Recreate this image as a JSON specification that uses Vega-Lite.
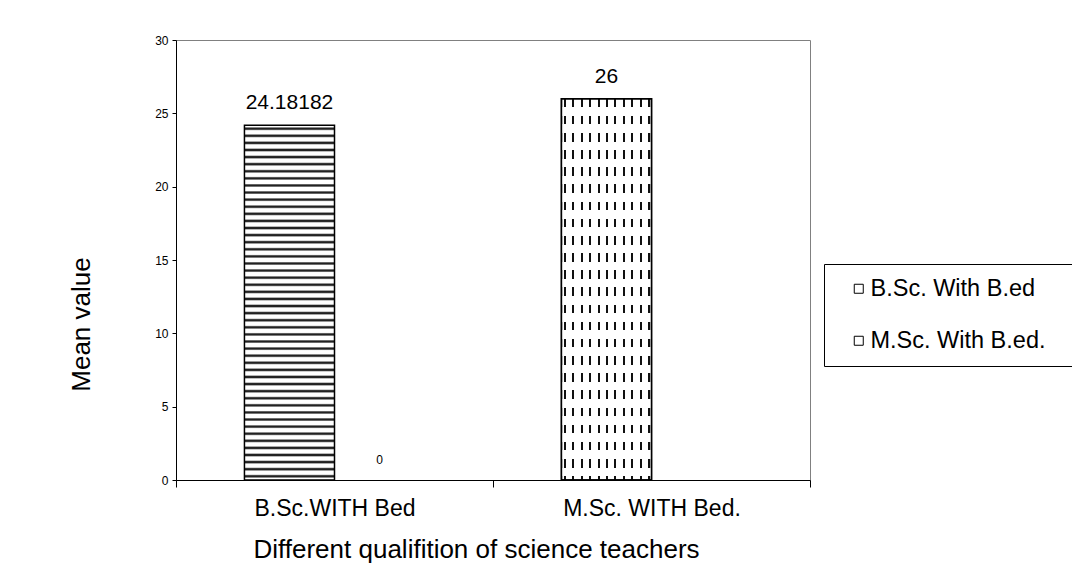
{
  "$schema": "https://vega.github.io/schema/vega-lite/v6.json",
  "width": 634,
  "height": 440,
  "autosize": {"type": "none"},
  "padding": {"left": 176, "top": 40, "right": 262, "bottom": 83},
  "background": "white",
  "config": {
    "font": "Liberation Sans",
    "view": {"stroke": "#808080", "strokeWidth": 1},
    "axis": {"grid": false, "domainColor": "#000", "tickColor": "#000", "labelColor": "#000", "titleColor": "#000", "titleFontWeight": "normal", "domainWidth": 1, "tickWidth": 1}
  },
  "data": {
    "values": [
      {"qualification": "B.Sc.WITH Bed", "series": "B.Sc. With B.ed", "slot": "1", "value": 24.18182},
      {"qualification": "B.Sc.WITH Bed", "series": "M.Sc. With B.ed.", "slot": "2", "value": 0},
      {"qualification": "M.Sc. WITH Bed.", "series": "M.Sc. With B.ed.", "slot": "1", "value": 26}
    ]
  },
  "encoding": {
    "x": {
      "field": "qualification", "type": "nominal",
      "sort": ["B.Sc.WITH Bed", "M.Sc. WITH Bed."],
      "scale": {"paddingInner": 0, "paddingOuter": 0},
      "axis": {
        "title": "Different qualifition of science teachers",
        "labelAngle": 0, "labelFontSize": 23, "labelPadding": 10, "tickSize": 7, "tickBand": "extent",
        "titleFontSize": 26, "titleX": 300, "titleY": 77, "titleAlign": "center", "titleBaseline": "alphabetic"
      }
    },
    "xOffset": {
      "field": "slot", "type": "nominal", "sort": ["1", "2"],
      "scale": {"paddingInner": 0, "paddingOuter": 0.76}
    },
    "y": {
      "field": "value", "type": "quantitative",
      "scale": {"domain": [0, 30], "nice": false},
      "axis": {
        "title": "Mean value", "values": [0, 5, 10, 15, 20, 25, 30],
        "labelFontSize": 12, "tickSize": 4, "labelPadding": 4,
        "titleFontSize": 26, "titleX": -87, "titleY": 284, "titleAngle": -90, "titleAlign": "center", "titleBaseline": "alphabetic"
      }
    }
  },
  "layer": [
    {
      "transform": [{"filter": "datum.series === 'B.Sc. With B.ed'"}],
      "mark": {
        "type": "bar", "stroke": "#000", "strokeWidth": 1.5,
        "fill": {
          "gradient": "linear", "x1": 0, "y1": 0, "x2": 0, "y2": 1,
          "stops": [
            {"offset": 0, "color": "#fff"},
            {"offset": 0.004, "color": "#fff"}, {"offset": 0.008, "color": "#222"}, {"offset": 0.011, "color": "#222"}, {"offset": 0.015, "color": "#fff"},
            {"offset": 0.024, "color": "#fff"}, {"offset": 0.028, "color": "#222"}, {"offset": 0.031, "color": "#222"}, {"offset": 0.035, "color": "#fff"},
            {"offset": 0.044, "color": "#fff"}, {"offset": 0.048, "color": "#222"}, {"offset": 0.051, "color": "#222"}, {"offset": 0.055, "color": "#fff"},
            {"offset": 0.064, "color": "#fff"}, {"offset": 0.068, "color": "#222"}, {"offset": 0.071, "color": "#222"}, {"offset": 0.075, "color": "#fff"},
            {"offset": 0.084, "color": "#fff"}, {"offset": 0.088, "color": "#222"}, {"offset": 0.091, "color": "#222"}, {"offset": 0.095, "color": "#fff"},
            {"offset": 0.104, "color": "#fff"}, {"offset": 0.108, "color": "#222"}, {"offset": 0.111, "color": "#222"}, {"offset": 0.115, "color": "#fff"},
            {"offset": 0.124, "color": "#fff"}, {"offset": 0.128, "color": "#222"}, {"offset": 0.131, "color": "#222"}, {"offset": 0.135, "color": "#fff"},
            {"offset": 0.144, "color": "#fff"}, {"offset": 0.148, "color": "#222"}, {"offset": 0.151, "color": "#222"}, {"offset": 0.155, "color": "#fff"},
            {"offset": 0.164, "color": "#fff"}, {"offset": 0.168, "color": "#222"}, {"offset": 0.171, "color": "#222"}, {"offset": 0.175, "color": "#fff"},
            {"offset": 0.184, "color": "#fff"}, {"offset": 0.188, "color": "#222"}, {"offset": 0.191, "color": "#222"}, {"offset": 0.195, "color": "#fff"},
            {"offset": 0.204, "color": "#fff"}, {"offset": 0.208, "color": "#222"}, {"offset": 0.211, "color": "#222"}, {"offset": 0.215, "color": "#fff"},
            {"offset": 0.224, "color": "#fff"}, {"offset": 0.228, "color": "#222"}, {"offset": 0.231, "color": "#222"}, {"offset": 0.235, "color": "#fff"},
            {"offset": 0.244, "color": "#fff"}, {"offset": 0.248, "color": "#222"}, {"offset": 0.251, "color": "#222"}, {"offset": 0.255, "color": "#fff"},
            {"offset": 0.264, "color": "#fff"}, {"offset": 0.268, "color": "#222"}, {"offset": 0.271, "color": "#222"}, {"offset": 0.275, "color": "#fff"},
            {"offset": 0.284, "color": "#fff"}, {"offset": 0.288, "color": "#222"}, {"offset": 0.291, "color": "#222"}, {"offset": 0.295, "color": "#fff"},
            {"offset": 0.304, "color": "#fff"}, {"offset": 0.308, "color": "#222"}, {"offset": 0.311, "color": "#222"}, {"offset": 0.315, "color": "#fff"},
            {"offset": 0.324, "color": "#fff"}, {"offset": 0.328, "color": "#222"}, {"offset": 0.331, "color": "#222"}, {"offset": 0.335, "color": "#fff"},
            {"offset": 0.344, "color": "#fff"}, {"offset": 0.348, "color": "#222"}, {"offset": 0.351, "color": "#222"}, {"offset": 0.355, "color": "#fff"},
            {"offset": 0.364, "color": "#fff"}, {"offset": 0.368, "color": "#222"}, {"offset": 0.371, "color": "#222"}, {"offset": 0.375, "color": "#fff"},
            {"offset": 0.384, "color": "#fff"}, {"offset": 0.388, "color": "#222"}, {"offset": 0.391, "color": "#222"}, {"offset": 0.395, "color": "#fff"},
            {"offset": 0.404, "color": "#fff"}, {"offset": 0.408, "color": "#222"}, {"offset": 0.411, "color": "#222"}, {"offset": 0.415, "color": "#fff"},
            {"offset": 0.424, "color": "#fff"}, {"offset": 0.428, "color": "#222"}, {"offset": 0.431, "color": "#222"}, {"offset": 0.435, "color": "#fff"},
            {"offset": 0.444, "color": "#fff"}, {"offset": 0.448, "color": "#222"}, {"offset": 0.451, "color": "#222"}, {"offset": 0.455, "color": "#fff"},
            {"offset": 0.464, "color": "#fff"}, {"offset": 0.468, "color": "#222"}, {"offset": 0.471, "color": "#222"}, {"offset": 0.475, "color": "#fff"},
            {"offset": 0.484, "color": "#fff"}, {"offset": 0.488, "color": "#222"}, {"offset": 0.491, "color": "#222"}, {"offset": 0.495, "color": "#fff"},
            {"offset": 0.504, "color": "#fff"}, {"offset": 0.508, "color": "#222"}, {"offset": 0.511, "color": "#222"}, {"offset": 0.515, "color": "#fff"},
            {"offset": 0.524, "color": "#fff"}, {"offset": 0.528, "color": "#222"}, {"offset": 0.531, "color": "#222"}, {"offset": 0.535, "color": "#fff"},
            {"offset": 0.544, "color": "#fff"}, {"offset": 0.548, "color": "#222"}, {"offset": 0.551, "color": "#222"}, {"offset": 0.555, "color": "#fff"},
            {"offset": 0.564, "color": "#fff"}, {"offset": 0.568, "color": "#222"}, {"offset": 0.571, "color": "#222"}, {"offset": 0.575, "color": "#fff"},
            {"offset": 0.584, "color": "#fff"}, {"offset": 0.588, "color": "#222"}, {"offset": 0.591, "color": "#222"}, {"offset": 0.595, "color": "#fff"},
            {"offset": 0.604, "color": "#fff"}, {"offset": 0.608, "color": "#222"}, {"offset": 0.611, "color": "#222"}, {"offset": 0.615, "color": "#fff"},
            {"offset": 0.624, "color": "#fff"}, {"offset": 0.628, "color": "#222"}, {"offset": 0.631, "color": "#222"}, {"offset": 0.635, "color": "#fff"},
            {"offset": 0.644, "color": "#fff"}, {"offset": 0.648, "color": "#222"}, {"offset": 0.651, "color": "#222"}, {"offset": 0.655, "color": "#fff"},
            {"offset": 0.664, "color": "#fff"}, {"offset": 0.668, "color": "#222"}, {"offset": 0.671, "color": "#222"}, {"offset": 0.675, "color": "#fff"},
            {"offset": 0.684, "color": "#fff"}, {"offset": 0.688, "color": "#222"}, {"offset": 0.691, "color": "#222"}, {"offset": 0.695, "color": "#fff"},
            {"offset": 0.704, "color": "#fff"}, {"offset": 0.708, "color": "#222"}, {"offset": 0.711, "color": "#222"}, {"offset": 0.715, "color": "#fff"},
            {"offset": 0.724, "color": "#fff"}, {"offset": 0.728, "color": "#222"}, {"offset": 0.731, "color": "#222"}, {"offset": 0.735, "color": "#fff"},
            {"offset": 0.744, "color": "#fff"}, {"offset": 0.748, "color": "#222"}, {"offset": 0.751, "color": "#222"}, {"offset": 0.755, "color": "#fff"},
            {"offset": 0.764, "color": "#fff"}, {"offset": 0.768, "color": "#222"}, {"offset": 0.771, "color": "#222"}, {"offset": 0.775, "color": "#fff"},
            {"offset": 0.784, "color": "#fff"}, {"offset": 0.788, "color": "#222"}, {"offset": 0.791, "color": "#222"}, {"offset": 0.795, "color": "#fff"},
            {"offset": 0.804, "color": "#fff"}, {"offset": 0.808, "color": "#222"}, {"offset": 0.811, "color": "#222"}, {"offset": 0.815, "color": "#fff"},
            {"offset": 0.824, "color": "#fff"}, {"offset": 0.828, "color": "#222"}, {"offset": 0.831, "color": "#222"}, {"offset": 0.835, "color": "#fff"},
            {"offset": 0.844, "color": "#fff"}, {"offset": 0.848, "color": "#222"}, {"offset": 0.851, "color": "#222"}, {"offset": 0.855, "color": "#fff"},
            {"offset": 0.864, "color": "#fff"}, {"offset": 0.868, "color": "#222"}, {"offset": 0.871, "color": "#222"}, {"offset": 0.875, "color": "#fff"},
            {"offset": 0.884, "color": "#fff"}, {"offset": 0.888, "color": "#222"}, {"offset": 0.891, "color": "#222"}, {"offset": 0.895, "color": "#fff"},
            {"offset": 0.904, "color": "#fff"}, {"offset": 0.908, "color": "#222"}, {"offset": 0.911, "color": "#222"}, {"offset": 0.915, "color": "#fff"},
            {"offset": 0.924, "color": "#fff"}, {"offset": 0.928, "color": "#222"}, {"offset": 0.931, "color": "#222"}, {"offset": 0.935, "color": "#fff"},
            {"offset": 0.944, "color": "#fff"}, {"offset": 0.948, "color": "#222"}, {"offset": 0.951, "color": "#222"}, {"offset": 0.955, "color": "#fff"},
            {"offset": 0.964, "color": "#fff"}, {"offset": 0.968, "color": "#222"}, {"offset": 0.971, "color": "#222"}, {"offset": 0.975, "color": "#fff"},
            {"offset": 0.984, "color": "#fff"}, {"offset": 0.988, "color": "#222"}, {"offset": 0.991, "color": "#222"}, {"offset": 0.995, "color": "#fff"},
            {"offset": 1, "color": "#fff"}
          ]
        }
      }
    },
    {
      "transform": [{"filter": "datum.series === 'M.Sc. With B.ed.' && datum.value > 0"}],
      "mark": {
        "type": "bar", "stroke": "#000", "strokeWidth": 1.5,
        "fill": {
          "gradient": "linear", "x1": 0, "y1": 0, "x2": 1, "y2": 0,
          "stops": [
            {"offset": 0, "color": "#fff"},
            {"offset": 0.0256, "color": "#fff"}, {"offset": 0.0256, "color": "#111"}, {"offset": 0.0478, "color": "#111"}, {"offset": 0.0478, "color": "#fff"},
            {"offset": 0.1194, "color": "#fff"}, {"offset": 0.1194, "color": "#111"}, {"offset": 0.1417, "color": "#111"}, {"offset": 0.1417, "color": "#fff"},
            {"offset": 0.2133, "color": "#fff"}, {"offset": 0.2133, "color": "#111"}, {"offset": 0.2356, "color": "#111"}, {"offset": 0.2356, "color": "#fff"},
            {"offset": 0.3072, "color": "#fff"}, {"offset": 0.3072, "color": "#111"}, {"offset": 0.3294, "color": "#111"}, {"offset": 0.3294, "color": "#fff"},
            {"offset": 0.4011, "color": "#fff"}, {"offset": 0.4011, "color": "#111"}, {"offset": 0.4233, "color": "#111"}, {"offset": 0.4233, "color": "#fff"},
            {"offset": 0.495, "color": "#fff"}, {"offset": 0.495, "color": "#111"}, {"offset": 0.5172, "color": "#111"}, {"offset": 0.5172, "color": "#fff"},
            {"offset": 0.5889, "color": "#fff"}, {"offset": 0.5889, "color": "#111"}, {"offset": 0.6111, "color": "#111"}, {"offset": 0.6111, "color": "#fff"},
            {"offset": 0.6828, "color": "#fff"}, {"offset": 0.6828, "color": "#111"}, {"offset": 0.705, "color": "#111"}, {"offset": 0.705, "color": "#fff"},
            {"offset": 0.7767, "color": "#fff"}, {"offset": 0.7767, "color": "#111"}, {"offset": 0.7989, "color": "#111"}, {"offset": 0.7989, "color": "#fff"},
            {"offset": 0.8706, "color": "#fff"}, {"offset": 0.8706, "color": "#111"}, {"offset": 0.8928, "color": "#111"}, {"offset": 0.8928, "color": "#fff"},
            {"offset": 0.9644, "color": "#fff"}, {"offset": 0.9644, "color": "#111"}, {"offset": 0.9867, "color": "#111"}, {"offset": 0.9867, "color": "#fff"},
            {"offset": 1, "color": "#fff"}
          ]
        }
      }
    },
    {
      "transform": [{"filter": "datum.series === 'M.Sc. With B.ed.' && datum.value > 0"}],
      "mark": {
        "type": "bar", "stroke": "#000", "strokeWidth": 1.5,
        "fill": {
          "gradient": "linear", "x1": 0, "y1": 0, "x2": 0, "y2": 1,
          "stops": [
            {"offset": 0, "color": "rgba(255,255,255,0)"}, {"offset": 0.0225, "color": "rgba(255,255,255,0)"}, {"offset": 0.0225, "color": "#fff"}, {"offset": 0.045, "color": "#fff"},
            {"offset": 0.045, "color": "rgba(255,255,255,0)"}, {"offset": 0.0675, "color": "rgba(255,255,255,0)"}, {"offset": 0.0675, "color": "#fff"}, {"offset": 0.09, "color": "#fff"},
            {"offset": 0.09, "color": "rgba(255,255,255,0)"}, {"offset": 0.1125, "color": "rgba(255,255,255,0)"}, {"offset": 0.1125, "color": "#fff"}, {"offset": 0.135, "color": "#fff"},
            {"offset": 0.135, "color": "rgba(255,255,255,0)"}, {"offset": 0.1575, "color": "rgba(255,255,255,0)"}, {"offset": 0.1575, "color": "#fff"}, {"offset": 0.18, "color": "#fff"},
            {"offset": 0.18, "color": "rgba(255,255,255,0)"}, {"offset": 0.2025, "color": "rgba(255,255,255,0)"}, {"offset": 0.2025, "color": "#fff"}, {"offset": 0.225, "color": "#fff"},
            {"offset": 0.225, "color": "rgba(255,255,255,0)"}, {"offset": 0.2475, "color": "rgba(255,255,255,0)"}, {"offset": 0.2475, "color": "#fff"}, {"offset": 0.27, "color": "#fff"},
            {"offset": 0.27, "color": "rgba(255,255,255,0)"}, {"offset": 0.2925, "color": "rgba(255,255,255,0)"}, {"offset": 0.2925, "color": "#fff"}, {"offset": 0.315, "color": "#fff"},
            {"offset": 0.315, "color": "rgba(255,255,255,0)"}, {"offset": 0.3375, "color": "rgba(255,255,255,0)"}, {"offset": 0.3375, "color": "#fff"}, {"offset": 0.36, "color": "#fff"},
            {"offset": 0.36, "color": "rgba(255,255,255,0)"}, {"offset": 0.3825, "color": "rgba(255,255,255,0)"}, {"offset": 0.3825, "color": "#fff"}, {"offset": 0.405, "color": "#fff"},
            {"offset": 0.405, "color": "rgba(255,255,255,0)"}, {"offset": 0.4275, "color": "rgba(255,255,255,0)"}, {"offset": 0.4275, "color": "#fff"}, {"offset": 0.45, "color": "#fff"},
            {"offset": 0.45, "color": "rgba(255,255,255,0)"}, {"offset": 0.4725, "color": "rgba(255,255,255,0)"}, {"offset": 0.4725, "color": "#fff"}, {"offset": 0.495, "color": "#fff"},
            {"offset": 0.495, "color": "rgba(255,255,255,0)"}, {"offset": 0.5175, "color": "rgba(255,255,255,0)"}, {"offset": 0.5175, "color": "#fff"}, {"offset": 0.54, "color": "#fff"},
            {"offset": 0.54, "color": "rgba(255,255,255,0)"}, {"offset": 0.5625, "color": "rgba(255,255,255,0)"}, {"offset": 0.5625, "color": "#fff"}, {"offset": 0.585, "color": "#fff"},
            {"offset": 0.585, "color": "rgba(255,255,255,0)"}, {"offset": 0.6075, "color": "rgba(255,255,255,0)"}, {"offset": 0.6075, "color": "#fff"}, {"offset": 0.63, "color": "#fff"},
            {"offset": 0.63, "color": "rgba(255,255,255,0)"}, {"offset": 0.6525, "color": "rgba(255,255,255,0)"}, {"offset": 0.6525, "color": "#fff"}, {"offset": 0.675, "color": "#fff"},
            {"offset": 0.675, "color": "rgba(255,255,255,0)"}, {"offset": 0.6975, "color": "rgba(255,255,255,0)"}, {"offset": 0.6975, "color": "#fff"}, {"offset": 0.72, "color": "#fff"},
            {"offset": 0.72, "color": "rgba(255,255,255,0)"}, {"offset": 0.7425, "color": "rgba(255,255,255,0)"}, {"offset": 0.7425, "color": "#fff"}, {"offset": 0.765, "color": "#fff"},
            {"offset": 0.765, "color": "rgba(255,255,255,0)"}, {"offset": 0.7875, "color": "rgba(255,255,255,0)"}, {"offset": 0.7875, "color": "#fff"}, {"offset": 0.81, "color": "#fff"},
            {"offset": 0.81, "color": "rgba(255,255,255,0)"}, {"offset": 0.8325, "color": "rgba(255,255,255,0)"}, {"offset": 0.8325, "color": "#fff"}, {"offset": 0.855, "color": "#fff"},
            {"offset": 0.855, "color": "rgba(255,255,255,0)"}, {"offset": 0.8775, "color": "rgba(255,255,255,0)"}, {"offset": 0.8775, "color": "#fff"}, {"offset": 0.9, "color": "#fff"},
            {"offset": 0.9, "color": "rgba(255,255,255,0)"}, {"offset": 0.9225, "color": "rgba(255,255,255,0)"}, {"offset": 0.9225, "color": "#fff"}, {"offset": 0.945, "color": "#fff"},
            {"offset": 0.945, "color": "rgba(255,255,255,0)"}, {"offset": 0.9675, "color": "rgba(255,255,255,0)"}, {"offset": 0.9675, "color": "#fff"}, {"offset": 0.99, "color": "#fff"},
            {"offset": 0.99, "color": "rgba(255,255,255,0)"}, {"offset": 1, "color": "rgba(255,255,255,0)"}
          ]
        }
      }
    },
    {
      "mark": {"type": "text", "baseline": "alphabetic", "dy": -16, "color": "#000"},
      "encoding": {
        "text": {"field": "value", "type": "quantitative"},
        "size": {"condition": {"test": "datum.value === 0", "value": 12}, "value": 21}
      }
    },
    {
      "mark": {"type": "point", "filled": true, "opacity": 0},
      "encoding": {
        "fill": {
          "field": "series", "type": "nominal",
          "sort": ["B.Sc. With B.ed", "M.Sc. With B.ed."],
          "scale": {"range": ["#fff", "#fff"]},
          "legend": {
            "title": " ", "titleOrient": "right", "titlePadding": 21, "titleFontSize": 11,
            "orient": "none", "legendX": 648, "legendY": 224,
            "padding": 13, "strokeColor": "#000", "fillColor": "#fff",
            "symbolType": "square", "symbolSize": 81, "symbolOffset": 10,
            "labelFontSize": 23.5, "labelOffset": 0, "rowPadding": 27, "labelColor": "#000", "labelLimit": 400,
            "encode": {"symbols": {"update": {"stroke": {"value": "#000"}, "strokeWidth": {"value": 1}, "opacity": {"value": 1}, "fill": {"value": "#fff"}}}}
          }
        }
      }
    }
  ]
}
